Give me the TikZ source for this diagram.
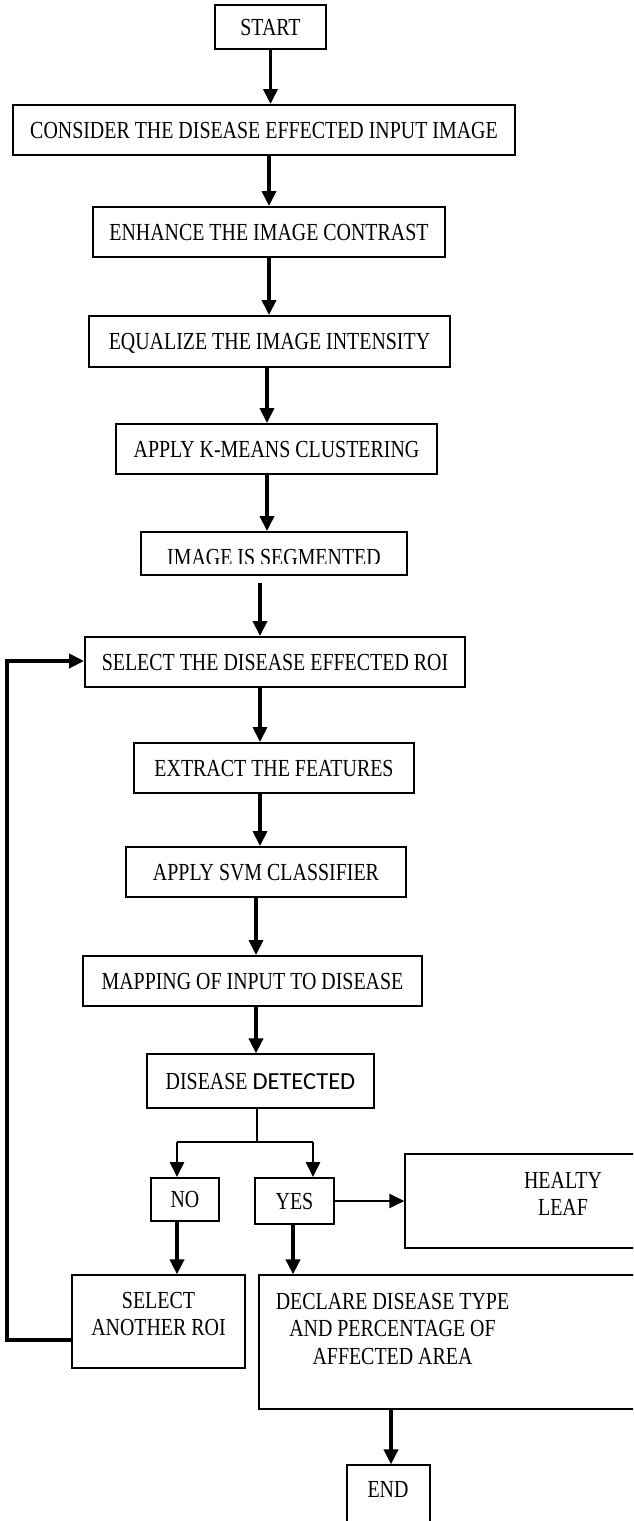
\documentclass[tikz,border=0pt]{standalone}
\usepackage{fontspec}
\setmainfont{Liberation Serif}[FakeStretch=0.813]
\newfontfamily\calib{Carlito}
\usetikzlibrary{arrows.meta,calc}
\begin{document}
\begin{tikzpicture}[x=1pt,y=-1pt,
  bigfont/.style={font=\fontsize{24.5}{27.5}\selectfont},
  box/.style={draw, line width=1.9pt, inner sep=0pt, text height=16pt, text depth=0pt, bigfont},
  thinbox/.style={draw, line width=1.2pt, inner sep=0pt},
  txt/.style={inner sep=0pt, align=center, anchor=north, bigfont},
  arr/.style={line width=3.6pt, -{Triangle[length=15pt,width=14pt]}},
  arrb/.style={line width=2.6pt, -{Triangle[length=15pt,width=14pt]}},
  fbarr/.style={line width=3.8pt, -{Triangle[length=15pt,width=14pt]}}]
\useasboundingbox (0,0) rectangle (633,1521);
\clip (0,0) rectangle (633,1521);

% main column
\node[box, minimum width=111pt, minimum height=44pt] (start) at (270.5,27) {START};
\node[box, minimum width=502pt, minimum height=50pt] (consider) at (264,130) {CONSIDER THE DISEASE EFFECTED INPUT IMAGE};
\node[box, minimum width=352pt, minimum height=50pt] (enhance) at (269,232) {ENHANCE THE IMAGE CONTRAST};
\node[box, minimum width=361pt, minimum height=51pt] (equalize) at (269.5,341.5) {EQUALIZE THE IMAGE INTENSITY};
\node[box, minimum width=321pt, minimum height=50pt] (kmeans) at (276.5,449) {APPLY K-MEANS CLUSTERING};
\node[box, minimum width=266pt, minimum height=43pt] (seg) at (274,553.5) {};
\begin{scope}
  \clip (141,532) rectangle (407,563.5);
  \node[box, draw=none] (segtext) at (274,557.5) {IMAGE IS SEGMENTED};
\end{scope}
\node[box, minimum width=380pt, minimum height=50pt] (roi) at (275,662) {SELECT THE DISEASE EFFECTED ROI};
\node[box, minimum width=280pt, minimum height=50pt] (extract) at (274,768) {EXTRACT THE FEATURES};
\node[box, minimum width=280pt, minimum height=50pt] (svm) at (266,872) {APPLY SVM CLASSIFIER};
\node[box, minimum width=339pt, minimum height=50pt] (mapping) at (252.5,981) {MAPPING OF INPUT TO DISEASE};
\node[box, line width=1.2pt, minimum width=227pt, minimum height=54pt] (detected) at (260.5,1081) {DISEASE {\calib DETECTED}};

% decision branches
\node[box, minimum width=68pt, minimum height=43pt] (no) at (185,1199.5) {NO};
\node[box, minimum width=79pt, minimum height=46pt] (yes) at (294.5,1201) {YES};
\node[thinbox, minimum width=315pt, minimum height=94pt] (healthy) at (562.5,1201) {};
\node[txt] (healthytext) at (563,1172) {HEALTY\\LEAF};
\node[thinbox, minimum width=173pt, minimum height=93pt] (another) at (158.5,1321.5) {};
\node[txt] (anothertext) at (158.5,1292) {SELECT\\ANOTHER ROI};
\node[thinbox, minimum width=441pt, minimum height=134pt] (declare) at (479.5,1342) {};
\node[txt] (declaretext) at (392.5,1293) {DECLARE DISEASE TYPE\\AND PERCENTAGE OF\\AFFECTED AREA};
\node[thinbox, minimum width=83pt, minimum height=100pt] (endbox) at (388.5,1515) {};
\node[txt] (endtext) at (388,1481) {END};

% connectors
\draw[arr] (start.south) -- (start.south |- consider.north);
\draw[arr] (enhance.north |- consider.south) -- (enhance.north);
\draw[arr] (enhance.south) -- (enhance.south |- equalize.north);
\coordinate (c3) at (267,0);
\draw[arr] (c3 |- equalize.south) -- (c3 |- kmeans.north);
\draw[arr] (c3 |- kmeans.south) -- (c3 |- seg.north);
\coordinate (segout) at (260,583);
\draw[arr] (segout) -- (segout |- roi.north);
\draw[arr] (segout |- roi.south) -- (segout |- extract.north);
\draw[arr] (segout |- extract.south) -- (segout |- svm.north);
\coordinate (c4) at (256,0);
\draw[arr] (c4 |- svm.south) -- (c4 |- mapping.north);
\draw[arr] (c4 |- mapping.south) -- (c4 |- detected.north);

\coordinate (split) at (257,1142);
\coordinate (splitL) at (177,1142);
\coordinate (splitR) at (313,1142);
\draw[line width=1.2pt] (split |- detected.south) -- (split);
\draw[line width=2.6pt] (splitL) -- (splitR);
\draw[arrb] (splitL) -- (splitL |- no.north);
\draw[arrb] (splitR) -- (splitR |- yes.north);
\draw[arrb] (yes.east) -- (healthy.west);
\draw[arr] (splitL |- no.south) -- (splitL |- another.north);
\coordinate (c5) at (293,0);
\draw[arr] (c5 |- yes.south) -- (c5 |- declare.north);
\coordinate (c6) at (391,0);
\draw[arr] (c6 |- declare.south) -- (c6 |- endbox.north);

\coordinate (fb1) at (7,1340);
\coordinate (fb2) at (7,661);
\draw[fbarr] (another.west |- fb1) -- (fb1) -- (fb2) -- (roi.west |- fb2);
\end{tikzpicture}
\end{document}
